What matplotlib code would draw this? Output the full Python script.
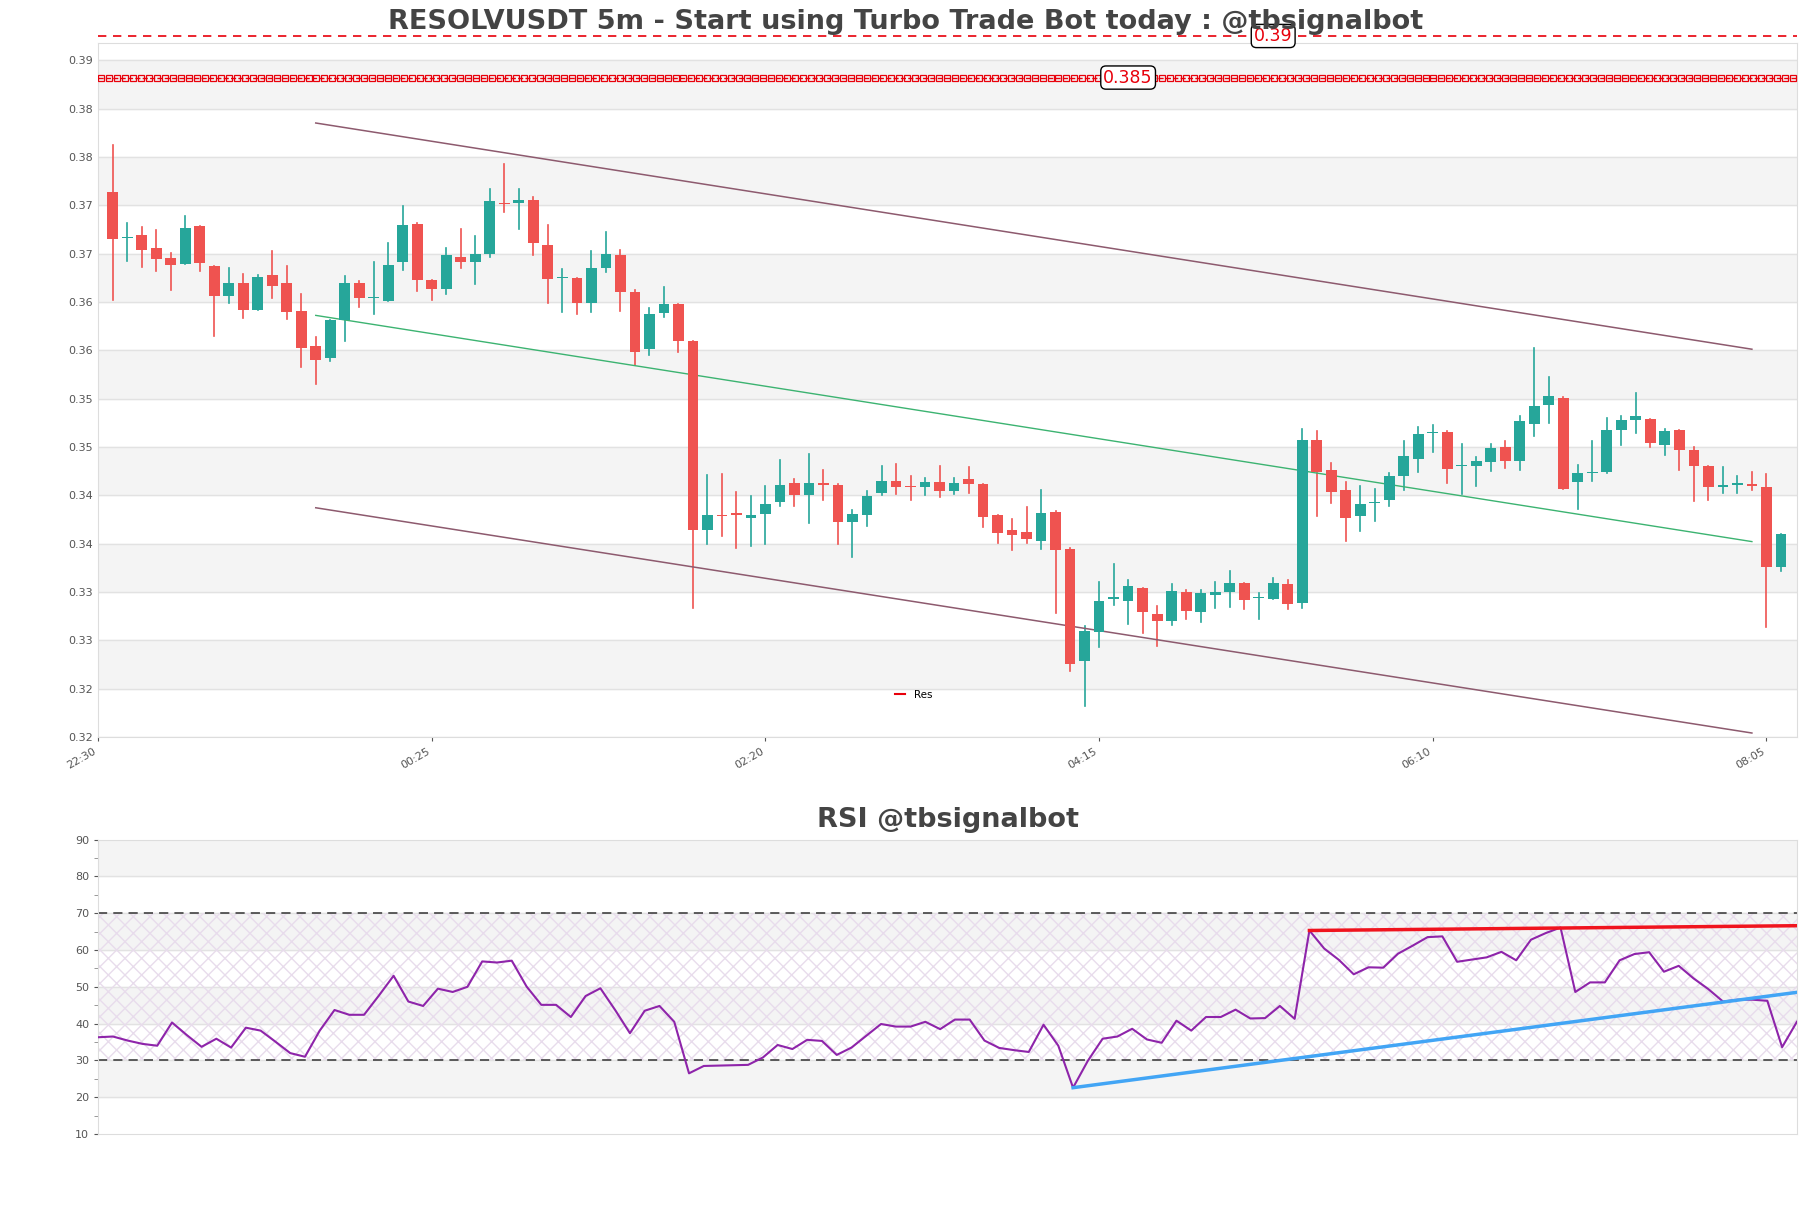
import numpy as np
import matplotlib
matplotlib.use("Agg")
import matplotlib.pyplot as plt
from matplotlib.lines import Line2D
from matplotlib.patches import Rectangle

opens = [0.3739,0.3691,0.3694,0.3681,0.3670,0.3664,0.3703,0.3662,0.3631,0.3645,
 0.3617,0.3653,0.3645,0.3616,0.3579,0.3567,0.3606,0.3644,0.3629,0.3626,
 0.3666,0.3706,0.3648,0.3638,0.3671,0.3666,0.3675,0.3727,0.3727,0.3730,
 0.3684,0.3650,0.3650,0.3624,0.3660,0.3673,0.3635,0.3576,0.3613,0.3623,
 0.3584,0.3389,0.3404,0.3406,0.3401,0.3406,0.3418,0.3438,0.3425,0.3438,
 0.3436,0.3397,0.3404,0.3427,0.3440,0.3435,0.3433,0.3439,0.3429,0.3442,
 0.3437,0.3404,0.3389,0.3387,0.3378,0.3408,0.3369,0.3253,0.3284,0.3318,
 0.3316,0.3329,0.3302,0.3295,0.3325,0.3304,0.3322,0.3325,0.3334,0.3319,
 0.3318,0.3333,0.3313,0.3482,0.3451,0.3430,0.3403,0.3417,0.3420,0.3445,
 0.3462,0.3489,0.3490,0.3455,0.3455,0.3459,0.3475,0.3460,0.3499,0.3518,
 0.3526,0.3439,0.3448,0.3449,0.3492,0.3503,0.3504,0.3477,0.3492,0.3472,
 0.3455,0.3433,0.3436,0.3436,0.3433,0.3351]
highs = [0.3787,0.3707,0.3702,0.3699,0.3676,0.3714,0.3703,0.3662,0.3660,0.3654,
 0.3653,0.3678,0.3662,0.3633,0.3589,0.3606,0.3652,0.3647,0.3666,0.3686,
 0.3724,0.3707,0.3648,0.3681,0.3700,0.3693,0.3742,0.3768,0.3742,0.3733,
 0.3704,0.3659,0.3650,0.3678,0.3697,0.3679,0.3637,0.3619,0.3640,0.3623,
 0.3584,0.3446,0.3447,0.3428,0.3424,0.3434,0.3461,0.3442,0.3468,0.3451,
 0.3437,0.3410,0.3429,0.3455,0.3457,0.3445,0.3443,0.3455,0.3443,0.3454,
 0.3437,0.3405,0.3400,0.3413,0.3430,0.3409,0.3370,0.3290,0.3335,0.3354,
 0.3337,0.3329,0.3310,0.3333,0.3327,0.3327,0.3335,0.3347,0.3334,0.3324,
 0.3339,0.3337,0.3493,0.3491,0.3458,0.3439,0.3434,0.3431,0.3448,0.3481,
 0.3496,0.3498,0.3491,0.3478,0.3464,0.3478,0.3481,0.3507,0.3577,0.3547,
 0.3527,0.3456,0.3481,0.3505,0.3507,0.3531,0.3504,0.3493,0.3492,0.3475,
 0.3455,0.3454,0.3445,0.3449,0.3447,0.3385]
lows = [0.3627,0.3667,0.3661,0.3657,0.3637,0.3664,0.3657,0.3590,0.3624,0.3608,
 0.3617,0.3629,0.3607,0.3558,0.3540,0.3564,0.3584,0.3620,0.3612,0.3626,
 0.3658,0.3636,0.3627,0.3633,0.3660,0.3643,0.3671,0.3718,0.3700,0.3673,
 0.3624,0.3615,0.3612,0.3615,0.3656,0.3616,0.3560,0.3570,0.3609,0.3573,
 0.3308,0.3374,0.3383,0.3370,0.3372,0.3374,0.3414,0.3414,0.3396,0.3420,
 0.3375,0.3361,0.3393,0.3425,0.3426,0.3420,0.3425,0.3423,0.3426,0.3427,
 0.3392,0.3376,0.3368,0.3376,0.3369,0.3303,0.3243,0.3207,0.3268,0.3311,
 0.3292,0.3282,0.3269,0.3291,0.3297,0.3294,0.3308,0.3309,0.3307,0.3297,
 0.3318,0.3307,0.3308,0.3403,0.3417,0.3378,0.3388,0.3398,0.3414,0.3430,
 0.3449,0.3470,0.3438,0.3426,0.3435,0.3450,0.3453,0.3451,0.3486,0.3500,
 0.3431,0.3411,0.3440,0.3448,0.3477,0.3489,0.3475,0.3467,0.3451,0.3419,
 0.3420,0.3427,0.3427,0.3430,0.3289,0.3347]
closes = [0.3690,0.3692,0.3679,0.3669,0.3663,0.3701,0.3665,0.3631,0.3645,0.3617,
 0.3651,0.3641,0.3615,0.3577,0.3565,0.3606,0.3644,0.3629,0.3630,0.3663,
 0.3705,0.3648,0.3638,0.3673,0.3666,0.3675,0.3729,0.3726,0.3730,0.3686,
 0.3649,0.3650,0.3624,0.3660,0.3674,0.3635,0.3573,0.3612,0.3623,0.3585,
 0.3389,0.3404,0.3403,0.3405,0.3405,0.3416,0.3436,0.3425,0.3438,0.3436,
 0.3397,0.3406,0.3424,0.3440,0.3433,0.3433,0.3439,0.3429,0.3438,0.3437,
 0.3402,0.3386,0.3384,0.3380,0.3407,0.3368,0.3250,0.3285,0.3316,0.3318,
 0.3331,0.3304,0.3295,0.3326,0.3305,0.3324,0.3325,0.3334,0.3317,0.3319,
 0.3334,0.3312,0.3482,0.3449,0.3428,0.3401,0.3416,0.3418,0.3445,0.3466,
 0.3488,0.3489,0.3452,0.3456,0.3460,0.3474,0.3460,0.3502,0.3517,0.3528,
 0.3431,0.3448,0.3449,0.3492,0.3503,0.3507,0.3479,0.3491,0.3472,0.3455,
 0.3433,0.3436,0.3437,0.3435,0.3351,0.3385]

rsi = [36.3,36.5,35.4,34.5,34.0,40.3,36.9,33.7,35.9,33.5,38.9,38.1,35.1,32.0,31.0,38.1,43.7,42.4,42.4,47.6,
 53.0,46.0,44.8,49.5,48.6,50.0,56.9,56.6,57.1,50.1,45.1,45.1,41.8,47.5,49.6,43.7,37.4,43.5,44.8,40.5,
 26.5,28.5,28.6,28.7,28.8,30.8,34.2,33.1,35.6,35.3,31.5,33.5,36.7,39.9,39.2,39.2,40.5,38.5,41.1,41.1,
 35.4,33.4,32.8,32.3,39.7,34.0,22.6,29.9,35.9,36.5,38.6,35.7,34.8,40.8,38.1,41.8,41.8,43.8,41.4,41.5,
 44.8,41.3,65.3,60.4,57.3,53.4,55.3,55.2,59.0,61.2,63.5,63.7,56.8,57.4,58.0,59.5,57.2,62.8,64.6,66.1,
 48.6,51.2,51.2,57.2,58.9,59.4,54.1,55.7,52.3,49.4,46.0,46.5,46.5,46.2,33.6,40.5]

tick_labels = ["22:30", "00:25", "02:20", "04:15", "06:10", "08:05"]
tick_pos = [-1, 22, 45, 68, 91, 114]

chan_x = [14, 113]
chan_upper = [0.3810, 0.3576]
chan_mid = [0.3611, 0.3377]
chan_lower = [0.3412, 0.3179]

levels = [0.3857, 0.3900]
level_labels = ["0.385", "0.39"]
level_label_x = [70.0, 80.0]

rsi_res_x = [82, 115]
rsi_res_y = [65.3, 66.6]
rsi_sup_x = [66, 115]
rsi_sup_y = [22.6, 48.5]

UP, DN = "#26a69a", "#ef5350"
fig = plt.figure(figsize=(18.11, 12.08), dpi=100)
ax = fig.add_axes([0.0542, 0.390, 0.938, 0.5746])
ax2 = fig.add_axes([0.0542, 0.0612, 0.938, 0.2438])

ymin, ymax = 0.3175, 0.3893
ax.set_xlim(-1, 116.1)
ax.set_ylim(ymin, ymax)
for k in range(7):
    ax.axhspan(0.3225 + 0.01 * k, 0.3275 + 0.01 * k, color="#f4f4f4", zorder=0)
yt = [0.3175 + 0.005 * k for k in range(15)]
ax.set_yticks(yt)
ax.set_yticklabels([f"{v:.2f}" for v in yt])
for v in yt:
    ax.axhline(v, color="#e2e2e2", lw=1, zorder=0.5)

n = len(opens)
for i in range(n):
    o, h, l, c = opens[i], highs[i], lows[i], closes[i]
    col = UP if c >= o else DN
    ax.plot([i, i], [l, h], color=col, lw=1.2, zorder=2)
    bh = max(abs(c - o), 0.00012)
    ax.add_patch(Rectangle((i - 0.37, min(o, c)), 0.74, bh, color=col, zorder=3, lw=0))

ax.plot(chan_x, chan_upper, color="#8d5a6e", lw=1.1, zorder=2)
ax.plot(chan_x, chan_mid, color="#3cb371", lw=1.0, zorder=2)
ax.plot(chan_x, chan_lower, color="#8d5a6e", lw=1.1, zorder=2)

ax.plot([-1, 116.1], [levels[0]] * 2, color="#e8000b", lw=1.0, ls="--", zorder=4)
xs = np.arange(-0.8, 116.1, 0.55)
ax.plot(xs, [levels[0]] * len(xs), ls="none", marker="s", ms=4.5, mfc="none",
        mec="#e8000b", mew=0.9, zorder=4)
ax.plot([-1, 116.1], [levels[1]] * 2, color="#e8000b", lw=1.2, ls=(0, (5, 4)), clip_on=False, zorder=4)
for lv, lb, lx in zip(levels, level_labels, level_label_x):
    ax.text(lx, lv, lb, color="#e8000b", fontsize=12.5, ha="center", va="center", zorder=6, clip_on=False,
            bbox=dict(boxstyle="round,pad=0.15,rounding_size=0.3", fc="white", ec="black", lw=1))

ax.set_xticks(tick_pos)
ax.set_xticklabels(tick_labels, rotation=30, ha="right", fontsize=8, color="#555555")
ax.tick_params(axis="y", labelsize=8, colors="#555555", length=0)
ax.tick_params(axis="x", length=3, colors="#555555")
for s in ax.spines.values():
    s.set_color("#dddddd")
leg = ax.legend([Line2D([0], [0], color="#e8000b", lw=1.5)], ["Res"], loc="lower center",
                bbox_to_anchor=(0.48, 0.04), frameon=False, fontsize=7.5, handlelength=1.0)
fig.text(0.5, 0.982, "RESOLVUSDT 5m - Start using Turbo Trade Bot today : @tbsignalbot",
         ha="center", va="center", fontsize=19.5, fontweight="bold", color="#444444", zorder=1)

# RSI
ax2.set_xlim(0, len(rsi) - 1)
ax2.set_ylim(10, 90)
for lo, hi in [(80, 90), (60, 70), (40, 50), (20, 30)]:
    ax2.axhspan(lo, hi, color="#f4f4f4", zorder=0)
for v in range(20, 90, 10):
    ax2.axhline(v, color="#e2e2e2", lw=1, zorder=0.5)
ax2.fill_between([0, len(rsi) - 1], 30, 70, facecolor="none", edgecolor="#e8dcec", hatch="xx", lw=0, zorder=0.6)
ax2.axhline(70, color="#333333", lw=1.1, ls=(0, (6, 4)), zorder=1)
ax2.axhline(30, color="#333333", lw=1.1, ls=(0, (6, 4)), zorder=1)
ax2.plot(range(len(rsi)), rsi, color="#8e24aa", lw=1.5, zorder=3)
ax2.plot(rsi_res_x, rsi_res_y, color="#f0141e", lw=2.5, zorder=4)
ax2.plot(rsi_sup_x, rsi_sup_y, color="#42a5f5", lw=2.5, zorder=4)
ax2.set_yticks(range(10, 91, 10))
ax2.set_yticks(range(15, 90, 10), minor=True)
ax2.tick_params(axis="y", labelsize=8, colors="#555555", length=3)
ax2.tick_params(axis="y", which="minor", length=3, colors="#888888")
ax2.set_xticks([])
for s in ax2.spines.values():
    s.set_color("#dddddd")
ax2.set_title("RSI @tbsignalbot", fontsize=19.5, fontweight="bold", color="#444444", pad=9)

fig.savefig("out.png", dpi=100)
